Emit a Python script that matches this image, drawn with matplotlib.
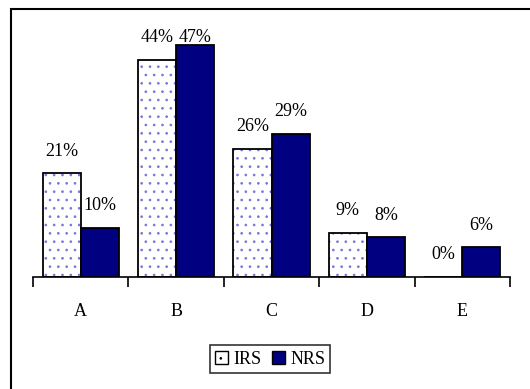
import matplotlib
matplotlib.use("Agg")
import matplotlib.pyplot as plt
from matplotlib.patches import Rectangle, Patch
import numpy as np

categories = ["A", "B", "C", "D", "E"]
series_names = ["IRS", "NRS"]
irs = [21, 44, 26, 9, 0]
nrs = [10, 47, 29, 8, 6]

plt.rcParams["font.family"] = ["Liberation Serif", "DejaVu Serif"]
plt.rcParams["hatch.linewidth"] = 0.7

W, H = 530, 389
fig = plt.figure(figsize=(W / 100, H / 100), dpi=100)
fig.patch.set_facecolor("white")

ax = fig.add_axes([33 / W, (H - 277) / H, 477 / W, 247 / H])
ax.set_xlim(0, len(categories))
ax.set_ylim(0, 0.5)

x = np.arange(len(categories)) + 0.5
bw = 0.4
irs_v = np.array(irs) / 100
nrs_v = np.array(nrs) / 100
dot_color = "#7878d8"

# dotted fill for IRS, outline drawn separately so the dots keep their own colour
ax.bar(x - bw / 2, irs_v, bw, color="white", hatch="..", edgecolor=dot_color,
       linewidth=0, zorder=2)
ax.bar(x - bw / 2, irs_v, bw, fill=False, edgecolor="black", linewidth=1.3, zorder=3)
ax.bar(x + bw / 2, nrs_v, bw, color="#000080", edgecolor="black", linewidth=1.3, zorder=3)

fs = 13
for xi, v in zip(x - bw / 2, irs_v):
    ax.text(xi, min(v + 0.045, 0.485), f"{round(v * 100)}%", ha="center", va="center",
            fontsize=fs, zorder=4)
for xi, v in zip(x + bw / 2, nrs_v):
    ax.text(xi, min(v + 0.045, 0.485), f"{round(v * 100)}%", ha="center", va="center",
            fontsize=fs, zorder=4)

for s in ["top", "right", "left"]:
    ax.spines[s].set_visible(False)
ax.spines["bottom"].set_linewidth(1.2)
ax.set_yticks([])
ax.set_xticks(np.arange(len(categories) + 1))
ax.set_xticklabels([])
ax.set_xticks(x, minor=True)
ax.set_xticklabels(categories, minor=True, fontsize=fs)
ax.tick_params(axis="x", which="major", direction="out", length=7, width=1.2)
ax.tick_params(axis="x", which="minor", length=0, pad=19)
ax.patch.set_alpha(0)

handles = [
    Patch(facecolor="white", edgecolor="black", hatch="..", linewidth=1),
    Patch(facecolor="#000080", edgecolor="black", linewidth=1),
]
leg = fig.legend(handles, series_names, loc="center", bbox_to_anchor=(270 / W, 1 - 359 / H),
                 ncol=2, fontsize=fs, frameon=True, fancybox=False, handlelength=0.7,
                 handleheight=0.7, handletextpad=0.3, columnspacing=0.6,
                 borderpad=0.3, borderaxespad=0)
leg.get_frame().set_edgecolor("black")
leg.get_frame().set_linewidth(1.2)

# outer frame (left and top edges visible)
fig.add_artist(Rectangle((11 / W, -0.1), 1.0, 1 - 9 / H + 0.1, transform=fig.transFigure,
                         fill=False, edgecolor="black", linewidth=1.5))

fig.savefig("out.png", dpi=100, facecolor="white")
